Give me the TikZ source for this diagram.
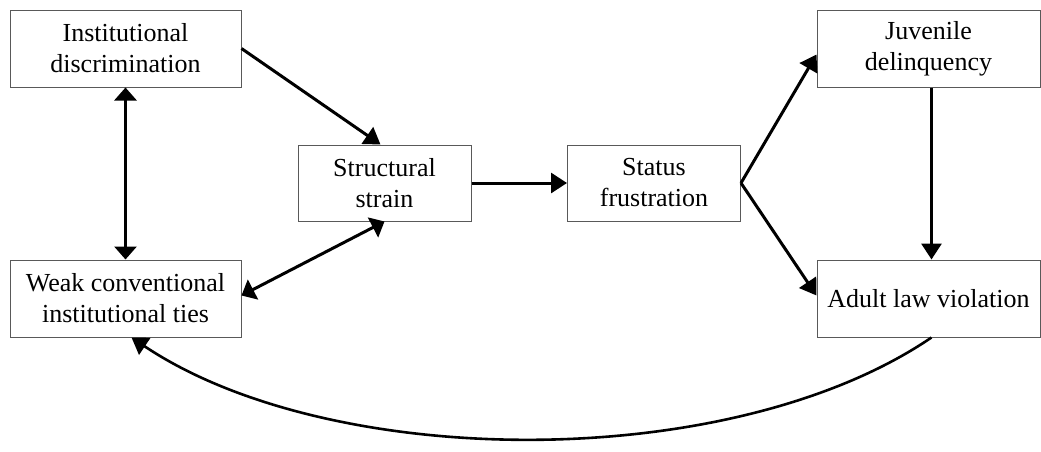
\documentclass[tikz,border=0pt]{standalone}
\usepackage{fontspec}
\setmainfont{Liberation Serif}
\usepackage{tikz}
\usetikzlibrary{arrows.meta}
\tikzset{
    plain-box/.style = {draw=black!65, fill=white, line width=0.5pt, rectangle, align=center, inner sep=0pt, font=\fontsize{13}{15.5}\selectfont},
    wide-box/.style = {plain-box, minimum width=115.5pt, minimum height=38.5pt},
    small-box/.style = {plain-box, minimum width=86.5pt, minimum height=38pt},
    link/.style = {line width=1.5pt, -{Triangle[length=8pt,width=10pt]}},
    both-link/.style = {line width=1.5pt, {Triangle[length=6.5pt,width=11pt]}-{Triangle[length=6.5pt,width=11pt]}},
}

\begin{document}
\begin{tikzpicture}[x=0.5pt,y=-0.5pt]
\useasboundingbox (0,0) rectangle (1041,451);
\node [wide-box] (inst) at (125.5,48.5) {Institutional\\discrimination};
\node [wide-box] (ties) at (125.5,298.5) {Weak conventional\\institutional ties};
\node [small-box] (strain) at (384.5,183) {Structural\\strain};
\node [small-box] (status) at (654,183) {Status\\frustration};
\node [plain-box, minimum width=111.5pt, minimum height=38.5pt] (juvenile) at (928.5,48.5) {Juvenile\\delinquency};
\node [plain-box, minimum width=111.5pt, minimum height=38.5pt] (adult) at (928.5,298.5) {Adult law violation};
\draw [link] (inst.east) -- ([xshift=-2pt]strain.north);
\draw [both-link] (inst.south) -- (ties.north);
\draw [both-link] (strain.south) -- ([yshift=1.5pt]ties.east);
\draw [link] (strain.east) -- (status.west);
\draw [link] (status.east) -- ([yshift=-3pt]juvenile.west);
\draw [link] (status.east) -- ([yshift=1.5pt]adult.west);
\draw [link] ([xshift=1.5pt]juvenile.south) -- ([xshift=1.5pt]adult.north);
\draw [link, line width=1.3pt] ([xshift=1.5pt]adult.south) .. controls +(-200,136) and +(200,134) .. ([xshift=3pt]ties.south);
\end{tikzpicture}
\end{document}
